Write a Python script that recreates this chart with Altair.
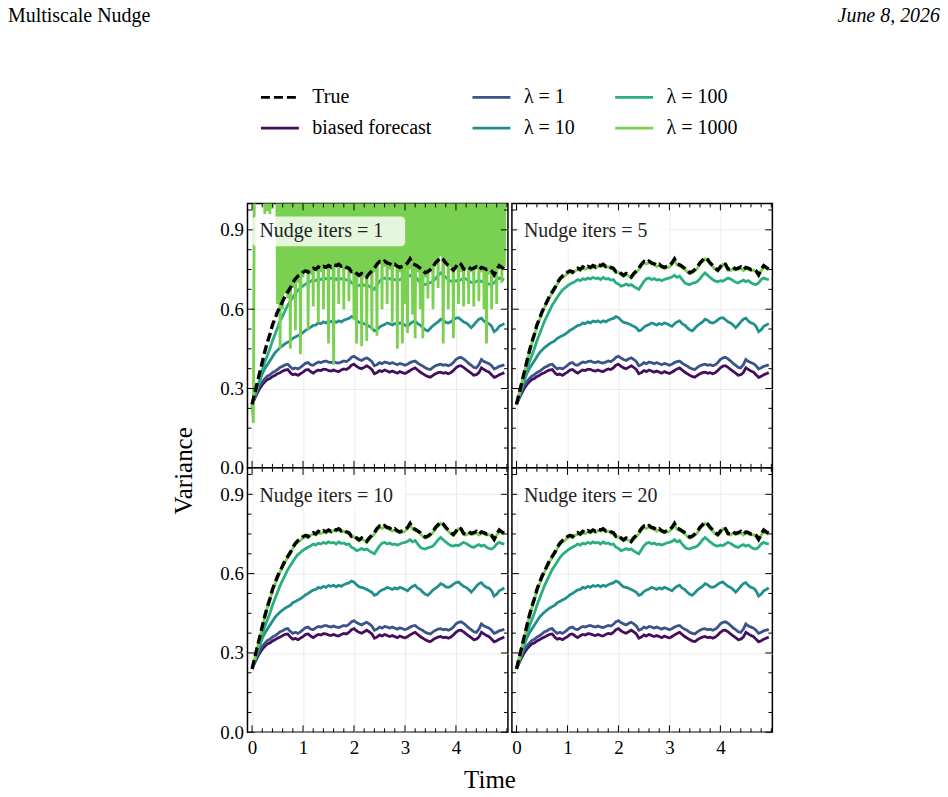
import altair as alt
import pandas as pd

FONT = "Liberation Serif"
W, H = 261, 265

# sample times of the diagnostics (dt = 0.05)
t = [round(0.05 * i, 2) for i in range(100)]

true_var = [
    0.24, 0.28, 0.32, 0.36, 0.40, 0.44, 0.475, 0.505, 0.54, 0.565,
    0.59, 0.61, 0.63, 0.65, 0.665, 0.68, 0.70, 0.715, 0.725, 0.73,
    0.74, 0.745, 0.74, 0.75, 0.755, 0.75, 0.76, 0.755, 0.762, 0.758,
    0.765, 0.76, 0.768, 0.765, 0.77, 0.762, 0.766, 0.758, 0.755, 0.742,
    0.745, 0.735, 0.728, 0.735, 0.73, 0.722, 0.735, 0.745, 0.755, 0.77,
    0.78, 0.775, 0.782, 0.775, 0.772, 0.765, 0.77, 0.762, 0.758, 0.762,
    0.765, 0.775, 0.79, 0.772, 0.768, 0.762, 0.755, 0.745, 0.738, 0.742,
    0.75, 0.76, 0.775, 0.785, 0.795, 0.788, 0.775, 0.765, 0.755, 0.748,
    0.76, 0.775, 0.77, 0.752, 0.75, 0.758, 0.752, 0.755, 0.76, 0.75,
    0.758, 0.755, 0.75, 0.752, 0.745, 0.73, 0.75, 0.765, 0.758, 0.752,
]

biased = [
    0.24, 0.262, 0.282, 0.30, 0.314, 0.325, 0.334, 0.338, 0.345, 0.35,
    0.356, 0.36, 0.366, 0.37, 0.372, 0.36, 0.352, 0.355, 0.35, 0.356,
    0.362, 0.37, 0.372, 0.364, 0.358, 0.365, 0.37, 0.368, 0.373, 0.372,
    0.368, 0.366, 0.37, 0.366, 0.364, 0.37, 0.374, 0.372, 0.378, 0.388,
    0.392, 0.384, 0.378, 0.375, 0.38, 0.386, 0.38, 0.372, 0.356, 0.36,
    0.368, 0.364, 0.37, 0.366, 0.362, 0.366, 0.362, 0.358, 0.364, 0.36,
    0.357, 0.362, 0.368, 0.374, 0.378, 0.37, 0.362, 0.356, 0.35, 0.345,
    0.343, 0.35, 0.356, 0.36, 0.362, 0.358, 0.36, 0.356, 0.36, 0.368,
    0.378, 0.385, 0.386, 0.38, 0.372, 0.365, 0.358, 0.35, 0.352, 0.36,
    0.378, 0.372, 0.366, 0.362, 0.352, 0.342, 0.346, 0.352, 0.356, 0.36,
]

lam1 = [
    0.24, 0.265, 0.29, 0.31, 0.325, 0.337, 0.347, 0.352, 0.36, 0.365,
    0.372, 0.38, 0.384, 0.39, 0.392, 0.382, 0.374, 0.378, 0.374, 0.38,
    0.388, 0.396, 0.398, 0.39, 0.388, 0.395, 0.40, 0.398, 0.402, 0.404,
    0.40, 0.398, 0.402, 0.398, 0.396, 0.40, 0.404, 0.402, 0.408, 0.418,
    0.422, 0.415, 0.41, 0.406, 0.412, 0.416, 0.41, 0.402, 0.386, 0.39,
    0.398, 0.394, 0.40, 0.398, 0.394, 0.398, 0.394, 0.39, 0.395, 0.392,
    0.388, 0.392, 0.398, 0.402, 0.404, 0.396, 0.39, 0.385, 0.378, 0.374,
    0.372, 0.38, 0.386, 0.39, 0.392, 0.388, 0.39, 0.386, 0.39, 0.398,
    0.41, 0.416, 0.418, 0.412, 0.404, 0.395, 0.388, 0.38, 0.378, 0.39,
    0.41, 0.402, 0.398, 0.394, 0.386, 0.374, 0.378, 0.384, 0.386, 0.39,
]

lam10 = [
    0.24, 0.27, 0.30, 0.33, 0.355, 0.375, 0.39, 0.405, 0.42, 0.435,
    0.445, 0.455, 0.462, 0.47, 0.475, 0.48, 0.49, 0.495, 0.50, 0.505,
    0.512, 0.52, 0.525, 0.532, 0.538, 0.54, 0.548, 0.545, 0.552, 0.548,
    0.555, 0.552, 0.556, 0.55, 0.556, 0.552, 0.558, 0.562, 0.565, 0.572,
    0.568, 0.558, 0.55, 0.548, 0.545, 0.54, 0.535, 0.53, 0.518, 0.522,
    0.532, 0.538, 0.542, 0.548, 0.545, 0.54, 0.546, 0.542, 0.548, 0.545,
    0.54, 0.535, 0.545, 0.552, 0.556, 0.545, 0.54, 0.53, 0.522, 0.518,
    0.528, 0.538, 0.545, 0.552, 0.562, 0.558, 0.55, 0.548, 0.552, 0.56,
    0.566, 0.568, 0.56, 0.552, 0.548, 0.54, 0.53, 0.54, 0.552, 0.562,
    0.566, 0.555, 0.548, 0.545, 0.535, 0.515, 0.522, 0.535, 0.54, 0.546,
]

lam100 = [
    0.24, 0.27, 0.30, 0.33, 0.37, 0.40, 0.425, 0.45, 0.48, 0.505,
    0.53, 0.555, 0.575, 0.595, 0.615, 0.63, 0.645, 0.66, 0.672, 0.68,
    0.688, 0.695, 0.70, 0.705, 0.712, 0.708, 0.715, 0.712, 0.718, 0.714,
    0.72, 0.716, 0.718, 0.712, 0.72, 0.714, 0.716, 0.71, 0.712, 0.70,
    0.695, 0.687, 0.69, 0.695, 0.69, 0.693, 0.686, 0.68, 0.675, 0.69,
    0.705, 0.715, 0.718, 0.712, 0.716, 0.71, 0.712, 0.708, 0.712, 0.716,
    0.718, 0.722, 0.728, 0.72, 0.725, 0.712, 0.70, 0.695, 0.693, 0.698,
    0.70, 0.705, 0.715, 0.728, 0.737, 0.728, 0.72, 0.712, 0.706, 0.704,
    0.708, 0.706, 0.712, 0.718, 0.714, 0.708, 0.702, 0.699, 0.705, 0.71,
    0.704, 0.708, 0.70, 0.695, 0.693, 0.70, 0.712, 0.718, 0.714, 0.712,
]

# lambda = 1000 once the nudge has had 5 or more iterations
lam1000 = [
    0.24, 0.277, 0.316, 0.355, 0.395, 0.435, 0.47, 0.50, 0.535, 0.56,
    0.585, 0.606, 0.626, 0.645, 0.66, 0.676, 0.695, 0.71, 0.72, 0.726,
    0.735, 0.74, 0.736, 0.745, 0.75, 0.746, 0.755, 0.751, 0.757, 0.754,
    0.76, 0.756, 0.763, 0.761, 0.765, 0.758, 0.761, 0.754, 0.75, 0.738,
    0.74, 0.731, 0.724, 0.73, 0.726, 0.718, 0.73, 0.74, 0.75, 0.765,
    0.775, 0.771, 0.777, 0.771, 0.768, 0.761, 0.765, 0.758, 0.754, 0.757,
    0.76, 0.77, 0.784, 0.768, 0.763, 0.758, 0.751, 0.741, 0.734, 0.738,
    0.745, 0.755, 0.77, 0.78, 0.79, 0.783, 0.771, 0.761, 0.751, 0.744,
    0.755, 0.77, 0.765, 0.748, 0.746, 0.753, 0.748, 0.75, 0.755, 0.746,
    0.753, 0.75, 0.746, 0.748, 0.741, 0.727, 0.745, 0.76, 0.754, 0.748,
]

# lambda = 1000 with a single nudge iteration: unstable, sampled at dt = 0.025
t_fine = [round(0.025 * i, 3) for i in range(200)]
lam1000_iter1 = [
    0.24, 0.17, 1.3, 1.3, 1.3, 1.3, 1.3, 1.3, 1.3, 1.3,
    0.96, 1.3, 0.97, 1.3, 0.96, 1.3, 0.98, 1.3, 1.3, 1.3,
    0.62, 1.3, 0.45, 1.3, 0.60, 1.3, 0.66, 1.3, 0.64, 1.3,
    0.45, 1.3, 0.68, 1.3, 0.52, 1.3, 0.70, 1.3, 0.43, 1.3,
    0.72, 1.3, 0.74, 1.3, 0.52, 1.3, 0.73, 1.3, 0.61, 1.3,
    0.75, 1.3, 0.55, 1.3, 0.74, 1.3, 0.60, 1.3, 0.76, 1.3,
    0.47, 1.3, 0.75, 1.3, 0.39, 1.3, 0.77, 1.3, 0.62, 1.3,
    0.76, 1.3, 0.60, 1.3, 0.75, 1.3, 0.63, 1.3, 0.74, 1.3,
    0.56, 1.3, 0.47, 1.3, 0.73, 1.3, 0.46, 1.3, 0.72, 1.3,
    0.48, 1.3, 0.73, 1.3, 0.52, 1.3, 0.74, 1.3, 0.50, 1.3,
    0.77, 1.3, 0.60, 1.3, 0.76, 1.3, 0.62, 1.3, 0.75, 1.3,
    0.55, 1.3, 0.76, 1.3, 0.45, 1.3, 0.74, 1.3, 0.47, 1.3,
    0.62, 1.3, 0.51, 1.3, 0.75, 1.3, 0.58, 1.3, 0.49, 1.3,
    0.74, 1.3, 0.60, 1.3, 0.49, 1.3, 0.72, 1.3, 0.64, 1.3,
    0.74, 1.3, 0.60, 1.3, 0.78, 1.3, 0.68, 1.3, 0.80, 1.3,
    0.47, 1.3, 0.77, 1.3, 0.60, 1.3, 0.76, 1.3, 0.49, 1.3,
    0.75, 1.3, 0.62, 1.3, 0.74, 1.3, 0.61, 1.3, 0.75, 1.3,
    0.62, 1.3, 0.74, 1.3, 0.61, 1.3, 0.75, 1.3, 0.63, 1.3,
    0.74, 1.3, 0.60, 1.3, 0.47, 1.3, 0.73, 1.3, 0.60, 1.3,
    0.72, 1.3, 0.62, 1.3, 0.75, 1.3, 0.70, 1.3, 0.76, 1.3,
]

nudge_iters = [1, 5, 10, 20]
panel_labels = ["Nudge iters = 1", "Nudge iters = 5", "Nudge iters = 10", "Nudge iters = 20"]

# legend entries fill column by column (two rows)
series_names = ["True", "biased forecast", "λ = 1", "λ = 10", "λ = 100", "λ = 1000"]
series_colors = ["#000000", "#450d5e", "#3b528b", "#21908d", "#29af7f", "#7ad151"]
draw_order = ["biased forecast", "λ = 1", "λ = 10", "λ = 100", "λ = 1000", "True"]

x_major = [0, 1, 2, 3, 4]
x_minor = [0.2, 0.4, 0.6, 0.8, 1.2, 1.4, 1.6, 1.8, 2.2, 2.4, 2.6, 2.8,
           3.2, 3.4, 3.6, 3.8, 4.2, 4.4, 4.6, 4.8, 5.0]
y_major = [0.0, 0.3, 0.6, 0.9]
y_minor = [0.075, 0.15, 0.225, 0.375, 0.45, 0.525, 0.675, 0.75, 0.825, 0.975]

shared = {"True": true_var, "biased forecast": biased, "λ = 1": lam1,
          "λ = 10": lam10, "λ = 100": lam100}
rows = []
for n in nudge_iters:
    for name, vals in shared.items():
        rows += [{"iters": n, "series": name, "t": a, "v": b} for a, b in zip(t, vals)]
    if n == 1:
        rows += [{"iters": n, "series": "λ = 1000", "t": a, "v": b} for a, b in zip(t_fine, lam1000_iter1)]
    else:
        rows += [{"iters": n, "series": "λ = 1000", "t": a, "v": b} for a, b in zip(t, lam1000)]
df = pd.DataFrame(rows)
labels_df = pd.DataFrame({"iters": nudge_iters, "label": panel_labels})

color_scale = alt.Scale(domain=series_names, range=series_colors)
dash_scale = alt.Scale(domain=series_names,
                       range=[[9, 4] if s == "True" else [1, 0] for s in series_names])

xscale = alt.Scale(domain=[-0.09, 5.02], nice=False, zero=False)
yscale = alt.Scale(domain=[0.0, 1.0], nice=False, zero=False)

legend = alt.Legend(orient="none", legendX=12, legendY=-127, columns=3, title=None,
                    symbolType="stroke", symbolSize=1444, symbolStrokeWidth=2.8,
                    labelFont=FONT, labelFontSize=20, labelColor="black", labelLimit=0,
                    columnPadding=34, rowPadding=-9, labelOffset=12, padding=0)


def panel(idx):
    n = nudge_iters[idx]
    bottom = idx >= 2
    left = idx % 2 == 0
    xaxis = alt.Axis(values=x_major, format="d", labels=bottom, ticks=False, domain=False,
                     grid=True, title=None, labelPadding=6)
    yaxis = alt.Axis(values=y_major, format=".1f", labels=left, ticks=False, domain=False,
                     grid=True, title=None, labelPadding=4)
    base = alt.Chart(df).transform_filter(alt.datum.iters == n)
    layers = []
    for s in draw_order:
        is_true = s == "True"
        layers.append(
            base.transform_filter(alt.datum.series == s)
            .mark_line(clip=True, strokeWidth=3.4 if is_true else 2.8)
            .encode(
                x=alt.X("t:Q", scale=xscale, axis=xaxis),
                y=alt.Y("v:Q", scale=yscale, axis=yaxis),
                color=alt.Color("series:N", scale=color_scale,
                                legend=legend if idx == 0 else None),
                strokeDash=alt.StrokeDash("series:N", scale=dash_scale,
                                          legend=legend if idx == 0 else None),
            )
        )

    # inward ticks on all four sides
    def xticks(vals, length):
        d = alt.Chart(pd.DataFrame({"x": vals}))
        enc = dict(x=alt.X("x:Q", scale=xscale, axis=xaxis))
        return [
            d.mark_rule(color="black", strokeWidth=1).encode(y=alt.value(H), y2=alt.value(H - length), **enc),
            d.mark_rule(color="black", strokeWidth=1).encode(y=alt.value(0), y2=alt.value(length), **enc),
        ]

    def yticks(vals, length):
        d = alt.Chart(pd.DataFrame({"y": vals}))
        enc = dict(y=alt.Y("y:Q", scale=yscale, axis=yaxis))
        return [
            d.mark_rule(color="black", strokeWidth=1).encode(x=alt.value(0), x2=alt.value(length), **enc),
            d.mark_rule(color="black", strokeWidth=1).encode(x=alt.value(W), x2=alt.value(W - length), **enc),
        ]

    layers += xticks(x_major, 7) + xticks(x_minor, 4) + yticks(y_major, 7) + yticks(y_minor, 4)

    lab = alt.Chart(labels_df).transform_filter(alt.datum.iters == n)
    layers.append(lab.mark_rect(color="white", opacity=0.8, cornerRadius=4).encode(
        x=alt.value(5), x2=alt.value(158), y=alt.value(13), y2=alt.value(43)))
    layers.append(lab.mark_text(align="left", baseline="alphabetic", font=FONT, fontSize=20,
                                color="#222222").encode(
        x=alt.value(12), y=alt.value(34), text="label:N"))

    if idx == 0:
        head = alt.Chart(pd.DataFrame({"a": [0]}))
        layers.append(head.mark_rect(fillOpacity=0, strokeOpacity=0).encode(
            x=alt.value(-247), x2=alt.value(701), y=alt.value(-202), y2=alt.value(595)))
        layers.append(head.mark_text(align="left", baseline="alphabetic", font=FONT,
                                     fontSize=20, color="black").encode(
            x=alt.value(-240), y=alt.value(-182), text=alt.value("Multiscale Nudge")))
        layers.append(head.mark_text(align="right", baseline="alphabetic", font=FONT,
                                     fontSize=20, fontStyle="italic", color="black").encode(
            x=alt.value(694), y=alt.value(-182), text=alt.value("June 8, 2026")))
        layers.append(head.mark_text(align="center", baseline="middle", font=FONT,
                                     fontSize=25, angle=270, color="black").encode(
            x=alt.value(-64), y=alt.value(268), text=alt.value("Variance")))
    if idx == 2:
        foot = alt.Chart(pd.DataFrame({"a": [0]}))
        layers.append(foot.mark_text(align="center", baseline="middle", font=FONT,
                                     fontSize=25, color="black").encode(
            x=alt.value(243), y=alt.value(313), text=alt.value("Time")))

    return alt.layer(*layers).properties(width=W, height=H)


chart = (
    alt.concat(*[panel(i) for i in range(4)], columns=2,
               spacing={"row": 0, "column": 4}, bounds="flush")
    .resolve_legend(color="independent", strokeDash="independent")
    .properties(padding=0)
    .configure_view(stroke="black", strokeWidth=1.5)
    .configure_axis(labelFont=FONT, labelFontSize=19, labelColor="black",
                    gridColor="#e6e6e6", gridWidth=0.8)
)

chart.save("out.html", embed_options={"renderer": "svg", "actions": False})
